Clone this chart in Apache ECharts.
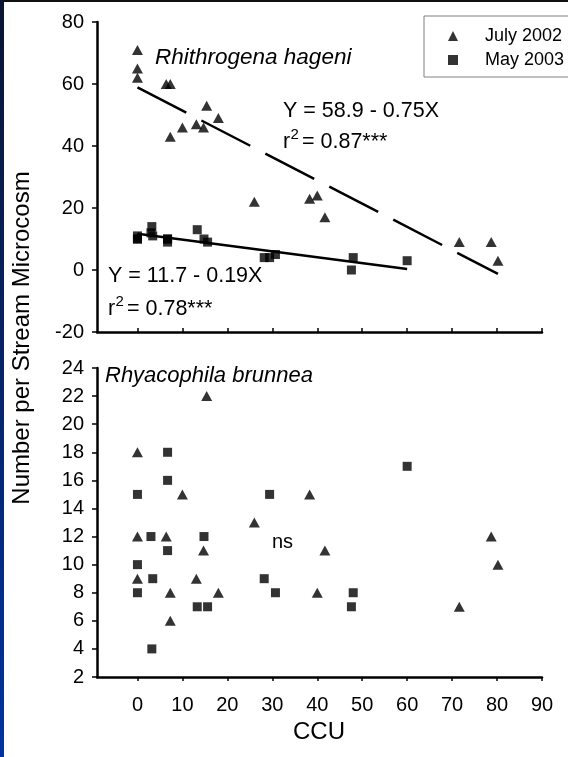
<!DOCTYPE html>
<html>
<head>
<meta charset="utf-8">
<script src="https://cdn.jsdelivr.net/npm/echarts@6/dist/echarts.min.js"></script>
<style>
  html, body { margin: 0; padding: 0; background: #fff; }
  #chart { width: 568px; height: 757px; }
</style>
</head>
<body>
<div id="chart"></div>
<script>
// CCU tick positions shared by both panels
const ccuTicks = [0, 10, 20, 30, 40, 50, 60, 70, 80, 90];

// July 2002 sites: CCU and counts per stream microcosm
const julyCCU      = [0, 0, 0, 6.4, 7.3, 7.3, 10, 13.1, 14.7, 15.4, 18, 26, 38.3, 40, 41.7, 71.6, 78.7, 80.2];
const julyRhithro  = [71, 65, 62, 60, 60, 43, 46, 47, 46, 53, 49, 22, 23, 24, 17, 9, 9, 3];
const julyRhyaco   = [18, 12, 9, 12, 8, 6, 15, 9, 11, 22, 8, 13, 15, 8, 11, 7, 12, 10];

// May 2003 sites
const mayCCU       = [0, 0, 0, 3.0, 3.2, 3.4, 6.7, 6.7, 6.7, 13.3, 14.8, 15.6, 28.2, 29.4, 30.7, 47.6, 48, 60];
const mayRhithro   = [11, 10, 10, 12, 14, 11, 10, 9, 10, 13, 10, 9, 4, 4, 5, 0, 4, 3];
const mayRhyaco    = [15, 10, 8, 12, 4, 9, 18, 16, 11, 7, 12, 7, 9, 15, 8, 7, 8, 17];

// Regression fits for Rhithrogena hageni (intercept, slope, CCU range)
const julyFit = { a: 58.9, b: -0.75, x0: 0, x1: 80.2 };
const mayFit  = { a: 11.7, b: -0.19, x0: 0, x1: 60 };

const FONT = '"Liberation Sans", Arial, Helvetica, sans-serif';
const zip = (xs, ys) => xs.map((x, i) => [x, ys[i]]);
const fitLine = f => [[f.x0, f.a + f.b * f.x0], [f.x1, f.a + f.b * f.x1]];

const axisLine = { show: true, onZero: false, lineStyle: { color: '#000', width: 2.5 } };
const tickStyle = { color: '#000', width: 1.5 };
const labelStyle = { color: '#000', fontSize: 20, fontFamily: FONT };

function xAxisFor(gridIndex, withLabels) {
  return {
    type: 'value', gridIndex, min: -9, max: 90,
    axisLine,
    axisTick: { show: true, inside: !withLabels, length: 4, customValues: ccuTicks, lineStyle: tickStyle },
    axisLabel: withLabels
      ? Object.assign({ show: true, margin: 18, customValues: ccuTicks }, labelStyle)
      : { show: false },
    splitLine: { show: false }
  };
}
function yAxisFor(gridIndex, min, max, interval) {
  return {
    type: 'value', gridIndex, min, max, interval,
    axisLine,
    axisTick: { show: true, inside: false, length: 5, lineStyle: tickStyle },
    axisLabel: Object.assign({ margin: 13 }, labelStyle),
    splitLine: { show: false }
  };
}

const tri = { symbol: 'triangle', symbolSize: [11, 10], itemStyle: { color: '#000' } };
const sq  = { symbol: 'rect', symbolSize: 9, itemStyle: { color: '#000' } };

function txt(x, y, text, size, extra) {
  return {
    type: 'text', x, y, silent: true,
    style: Object.assign({
      text, fill: '#000', fontSize: size, fontFamily: FONT,
      align: 'left', verticalAlign: 'middle'
    }, extra || {})
  };
}
// "r² = value" written as three pieces so the exponent sits raised
function rSquared(x, y, rest) {
  return [
    txt(x, y, 'r', 21.5),
    txt(x + 7.5, y - 7, '2', 15),
    txt(x + 19, y, rest, 21.5)
  ];
}

const option = {
  backgroundColor: '#fff',
  animation: false,
  grid: [
    { left: 97, top: 22, width: 445, height: 310 },
    { left: 97, top: 368, width: 445, height: 309 }
  ],
  xAxis: [xAxisFor(0, false), xAxisFor(1, true)],
  yAxis: [yAxisFor(0, -20, 80, 20), yAxisFor(1, 2, 24, 2)],
  legend: {
    data: ['July 2002', 'May 2003'],
    orient: 'vertical',
    left: 424, top: 16,
    padding: [11, 40, 8, 24],
    itemWidth: 10, itemHeight: 10, itemGap: 6,
    borderColor: '#808080', borderWidth: 1,
    selectedMode: false,
    textStyle: { color: '#000', fontSize: 18, fontFamily: FONT, lineHeight: 18, padding: [0, 0, 0, 22] }
  },
  series: [
    Object.assign({ type: 'scatter', name: 'July 2002', xAxisIndex: 0, yAxisIndex: 0, data: zip(julyCCU, julyRhithro) }, tri),
    Object.assign({ type: 'scatter', name: 'May 2003', xAxisIndex: 0, yAxisIndex: 0, data: zip(mayCCU, mayRhithro) }, sq),
    Object.assign({ type: 'scatter', name: 'July 2002', xAxisIndex: 1, yAxisIndex: 1, data: zip(julyCCU, julyRhyaco) }, tri),
    Object.assign({ type: 'scatter', name: 'May 2003', xAxisIndex: 1, yAxisIndex: 1, data: zip(mayCCU, mayRhyaco) }, sq),
    {
      type: 'line', name: 'July fit', xAxisIndex: 0, yAxisIndex: 0, data: fitLine(julyFit),
      symbol: 'none', silent: true, z: 1,
      lineStyle: { color: '#000', width: 2.5, type: [55, 17] }
    },
    {
      type: 'line', name: 'May fit', xAxisIndex: 0, yAxisIndex: 0, data: fitLine(mayFit),
      symbol: 'none', silent: true, z: 1,
      lineStyle: { color: '#000', width: 2.5, type: 'solid' }
    }
  ],
  graphic: [
    // frame: dark rule across the top and a blue strip down the left edge
    { type: 'rect', silent: true, shape: { x: 0, y: 0, width: 568, height: 2 }, style: { fill: '#111' } },
    {
      type: 'rect', silent: true, shape: { x: 0, y: 0, width: 4, height: 757 },
      style: { fill: new echarts.graphic.LinearGradient(0, 0, 0, 1, [
        { offset: 0, color: '#0b1533' }, { offset: 1, color: '#0033a0' }
      ]) }
    },
    txt(155, 58, 'Rhithrogena hageni', 22.5, { fontStyle: 'italic' }),
    txt(283, 111, 'Y = 58.9 - 0.75X', 21.5),
    ...rSquared(283, 142, '= 0.87***'),
    txt(108, 276, 'Y = 11.7 - 0.19X', 21.5),
    ...rSquared(108, 309, '= 0.78***'),
    txt(105, 376, 'Rhyacophila brunnea', 22, { fontStyle: 'italic' }),
    txt(272, 542, 'ns', 20),
    txt(319, 732, 'CCU', 24, { align: 'center' }),
    {
      type: 'text', x: 22, y: 338, rotation: Math.PI / 2, silent: true,
      style: { text: 'Number per Stream Microcosm', fill: '#000', fontSize: 24, fontFamily: FONT,
               align: 'center', verticalAlign: 'middle' }
    }
  ]
};

const chart = echarts.init(document.getElementById('chart'), null, { renderer: 'canvas' });
chart.setOption(option);
</script>
</body>
</html>
